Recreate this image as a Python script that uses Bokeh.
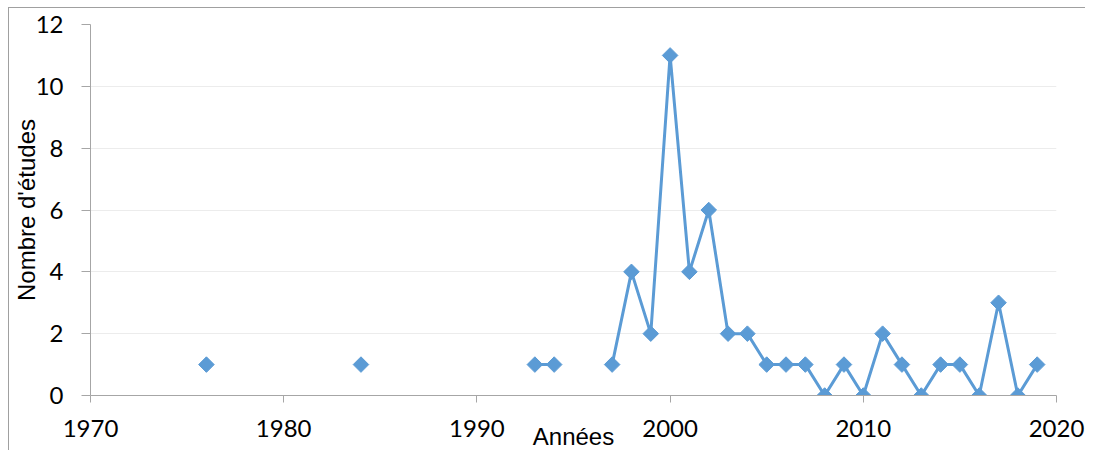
import math
from bokeh.plotting import figure
from bokeh.embed import file_html
from bokeh.resources import INLINE
from bokeh.models import FixedTicker, ColumnDataSource

years = [1976, 1984, 1993, 1994, 1997, 1998, 1999, 2000, 2001, 2002, 2003, 2004,
         2005, 2006, 2007, 2008, 2009, 2010, 2011, 2012, 2013, 2014, 2015, 2016,
         2017, 2018, 2019]
counts = [1, 1, 1, 1, 1, 4, 2, 11, 4, 6, 2, 2,
          1, 1, 1, 0, 1, 0, 2, 1, 0, 1, 1, 0,
          3, 0, 1]
x_ticks = [1970, 1980, 1990, 2000, 2010, 2020]
y_ticks = [0, 2, 4, 6, 8, 10, 12]

# break the line where consecutive years are missing
lx, ly = [], []
for i, (yr, c) in enumerate(zip(years, counts)):
    if i > 0 and yr - years[i - 1] > 1:
        lx.append(float("nan")); ly.append(float("nan"))
    lx.append(yr); ly.append(c)

TICK_FONT = "Lato"
LABEL_FONT = "Liberation Sans"
AX = "#a6a6a6"
BLUE = "#5B9BD5"

p = figure(width=1077, height=447, x_range=(1970, 2020), y_range=(0, 12),
           output_backend="svg", toolbar_location=None,
           min_border_left=81, min_border_right=30, min_border_top=16, min_border_bottom=60)
p.margin = (7, 0, -8, 8)
p.outline_line_color = None
p.background_fill_color = "white"
p.border_fill_color = "white"
p.styles = {"border-left": "1px solid #a0a0a0", "border-top": "1px solid #a0a0a0"}

p.xgrid.grid_line_color = None
p.ygrid.grid_line_color = "#ececec"
p.ygrid.grid_line_width = 1

p.xaxis.ticker = FixedTicker(ticks=x_ticks)
p.yaxis.ticker = FixedTicker(ticks=y_ticks)
for ax in (p.xaxis[0], p.yaxis[0]):
    ax.axis_line_color = AX
    ax.major_tick_line_color = AX
    ax.minor_tick_line_color = None
    ax.major_tick_in = 0
    ax.major_label_text_font = TICK_FONT
    ax.major_label_text_font_size = "24px"
    ax.major_label_text_color = "black"
    ax.axis_label_text_font = LABEL_FONT
    ax.axis_label_text_font_style = "normal"
    ax.axis_label_text_color = "black"
p.xaxis.major_tick_out = 7
p.yaxis.major_tick_out = 9
p.xaxis.major_label_standoff = 17
p.yaxis.major_label_standoff = 18
p.xaxis.axis_label = "Années"
p.xaxis.axis_label_text_font_size = "24px"
p.xaxis.axis_label_standoff = -17
p.yaxis.axis_label = "Nombre d'études"
p.yaxis.axis_label_text_font_size = "24px"
p.yaxis.axis_label_standoff = -7

p.line(lx, ly, line_color=BLUE, line_width=3)
src = ColumnDataSource(dict(x=years, y=counts))
p.scatter("x", "y", source=src, marker="square", angle=math.pi / 4, size=11,
          fill_color=BLUE, line_color=BLUE)

open("out.html", "w").write(file_html(p, INLINE))
